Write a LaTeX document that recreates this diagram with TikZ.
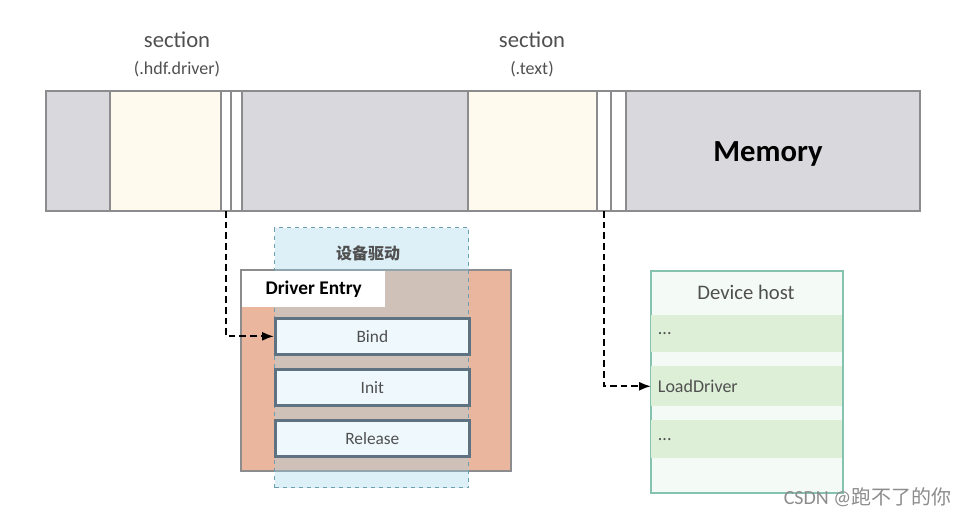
\documentclass[tikz,border=0pt]{standalone}
\usepackage{fontspec}
\setmainfont{Carlito}
\newfontfamily\cjkfont{Noto Sans CJK SC}
\usepackage{tikz}
\usetikzlibrary{arrows.meta,positioning}
\usepackage{xcolor}
\definecolor{memgray}{HTML}{D9D8DC}
\definecolor{memborder}{HTML}{8C8C8E}
\definecolor{seccream}{HTML}{FEFAEE}
\definecolor{entryorange}{HTML}{EAB69E}
\definecolor{drvblue}{HTML}{9FD3EA}
\definecolor{drvborder}{HTML}{6E9FB0}
\definecolor{methfill}{HTML}{EEF8FD}
\definecolor{methborder}{HTML}{5F7282}
\definecolor{hostborder}{HTML}{86C2B0}
\definecolor{hostfill}{HTML}{F4FBF6}
\definecolor{hostrow}{HTML}{DDEFD7}
\definecolor{labelgray}{HTML}{505050}

\begin{document}
\begin{tikzpicture}[
  x=0.75pt, y=-0.75pt,
  >=Latex,
  memseg/.style={
    draw=memborder,
    line width=1.2pt,
    fill=memgray,
    minimum height=90pt,
    inner sep=0pt,
    outer sep=0pt,
    anchor=north west
  },
  slotseg/.style={memseg, fill=white},
  sectlabel/.style={font=\fontsize{17}{18}\selectfont, text=labelgray},
  sectname/.style={font=\fontsize{13.5}{15}\selectfont, text=labelgray},
  methbox/.style={
    draw=methborder,
    line width=2pt,
    fill=methfill,
    minimum width=145.5pt,
    minimum height=27pt,
    inner sep=0pt,
    anchor=north west,
    font=\fontsize{13}{14}\selectfont,
    text=labelgray
  },
  hostrowbox/.style={
    fill=hostrow,
    minimum width=143pt,
    inner sep=0pt,
    anchor=north west,
    align=left,
    text width=133pt,
    font=\fontsize{13.5}{15}\selectfont,
    text=labelgray
  },
  linkarrow/.style={->, dashed, line width=1.3pt, dash pattern=on 5pt off 3pt}
]
  \useasboundingbox (0,0) rectangle (971,517);

  % Memory bar, left to right
  \node[memseg, minimum width=48pt] (seglead) at (46,91) {};
  \node[memseg, fill=seccream, minimum width=83.25pt] (hdfsec) at (110,91) {};
  \node[slotseg, minimum width=7.5pt] (hdfslot) at (221,91) {};
  \node[slotseg, minimum width=8.25pt] (hdfslotb) at (231,91) {};
  \node[memseg, minimum width=169.5pt] (segmid) at (242,91) {};
  \node[memseg, fill=seccream, minimum width=96.75pt] (textsec) at (468,91) {};
  \node[slotseg, minimum width=10.5pt] (textslot) at (597,91) {};
  \node[slotseg, minimum width=11.25pt] (textslotb) at (611,91) {};
  \node[memseg, minimum width=220.5pt] (memory) at (626,91) {};
  \node[font=\bfseries\fontsize{23}{25}\selectfont] (memlabel) at (768,154) {Memory};

  % Section labels
  \node[sectlabel] (hdflabel) at (177,40) {section};
  \node[sectname] (hdfname) at (177,69) {(.hdf.driver)};
  \node[sectlabel] (textlabel) at (532,40) {section};
  \node[sectname] (textname) at (532,69) {(.text)};

  % Driver Entry block with the dashed driver area laid over it
  \node[draw=memborder, line width=1.2pt, fill=entryorange, minimum width=202.5pt, minimum height=150.75pt, inner sep=0pt, anchor=north west] (entry) at (240,269) {};
  \node[draw=drvborder, dashed, line width=0.9pt, fill=drvblue, fill opacity=0.35, minimum width=145.5pt, minimum height=195pt, inner sep=0pt, anchor=north west] (drvarea) at (274,227) {};
  \node[font=\cjkfont\bfseries\fontsize{12}{14}\selectfont, text=labelgray] (drvtitle) at (368,253) {设备驱动};
  \node[fill=white, minimum width=107.25pt, minimum height=27pt, inner sep=0pt, anchor=north west, font=\bfseries\fontsize{14.5}{16}\selectfont] (entrytitle) at (242,271) {Driver Entry};

  \node[methbox] (bind) at (274,317) {Bind};
  \node[methbox] (init) at (274,368) {Init};
  \node[methbox] (release) at (274,419) {Release};

  % Device host table
  \node[draw=hostborder, line width=1.5pt, fill=hostfill, minimum width=144pt, minimum height=166.5pt, inner sep=0pt, anchor=north west] (host) at (650,270) {};
  \node[font=\fontsize{15.5}{17}\selectfont, text=labelgray] (hosttitle) at (746,292) {Device host};
  \node[hostrowbox, minimum height=27.75pt] (hostrowa) at (651,315) {...};
  \node[hostrowbox, minimum height=30pt] (loaddrv) at (651,366) {LoadDriver};
  \node[hostrowbox, minimum height=28.5pt] (hostrowc) at (651,420) {...};

  % Links from the sections
  \draw[linkarrow] (hdfslot.south) |- (bind.west);
  \draw[linkarrow] (textslot.south) |- (loaddrv.west);

  % Watermark
  \node[anchor=east, text=white!55!black, font=\fontsize{15}{17}\selectfont] (mark) at (956,497) {CSDN @{\cjkfont 跑不了的你}};

\end{tikzpicture}
\end{document}
